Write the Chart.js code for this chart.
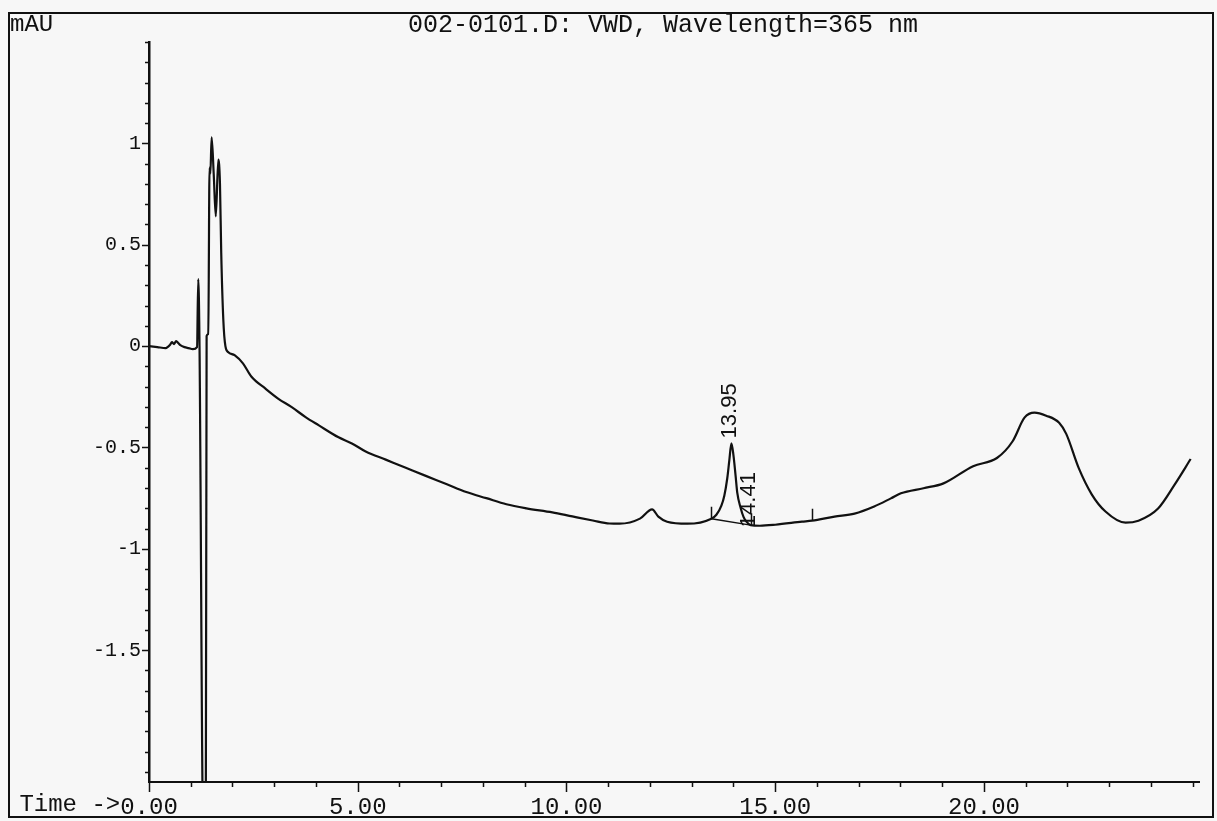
<!DOCTYPE html>
<html>
<head>
<meta charset="utf-8">
<title>002-0101.D VWD 365 nm</title>
<script src="https://cdn.jsdelivr.net/npm/chart.js@4.4.1/dist/chart.umd.min.js"></script>
<style>
  html, body { margin: 0; padding: 0; background: #f7f7f7; }
  #wrap { width: 1217px; height: 821px; }
</style>
</head>
<body>
<div id="wrap"><canvas id="chrom" width="1217" height="821"></canvas></div>
<script>
// VWD trace, 365 nm (time in min, signal in mAU)
var times = [
  0.00, 0.20, 0.40, 0.50, 0.55, 0.60, 0.65, 0.70, 0.75, 0.85,
  0.95, 1.05, 1.15, 1.18, 1.21, 1.30, 1.36, 1.38, 1.42, 1.45,
  1.47, 1.50, 1.55, 1.60, 1.66, 1.70, 1.73, 1.78, 1.83, 1.90,
  2.05, 2.25, 2.45, 2.79, 3.10, 3.41, 3.75, 4.06, 4.54, 4.86,
  5.19, 5.67, 6.15, 6.63, 7.12, 7.60, 8.08, 8.56, 9.04, 9.66,
  10.14, 10.63, 11.03, 11.27, 11.76, 12.05, 12.20, 12.41, 12.90, 13.47,
  13.59, 13.71, 13.78, 13.85, 13.90, 13.95, 14.00, 14.05, 14.09, 14.17,
  14.24, 14.31, 14.41, 14.63, 15.00, 15.64, 15.88, 16.42, 16.90, 17.37,
  17.77, 18.01, 18.55, 19.03, 19.74, 20.31, 20.69, 20.97, 21.21, 21.49,
  21.80, 21.97, 22.27, 22.58, 22.91, 23.39, 23.70, 24.17, 24.57, 24.95
];
var mau = [
  0.000, -0.005, -0.010, 0.005, 0.020, 0.010, 0.025, 0.015, 0.005, -0.005,
  -0.010, -0.015, -0.005, 0.330, 0.000, -2.400, -2.400, 0.050, 0.060, 0.880,
  0.850, 1.030, 0.850, 0.640, 0.920, 0.800, 0.460, 0.130, 0.000, -0.030,
  -0.045, -0.085, -0.150, -0.210, -0.260, -0.300, -0.350, -0.390, -0.450, -0.480,
  -0.520, -0.560, -0.600, -0.640, -0.680, -0.720, -0.750, -0.780, -0.800, -0.820,
  -0.840, -0.860, -0.875, -0.876, -0.851, -0.805, -0.841, -0.866, -0.876, -0.851,
  -0.832, -0.787, -0.738, -0.653, -0.564, -0.480, -0.540, -0.639, -0.723, -0.797,
  -0.842, -0.866, -0.883, -0.886, -0.881, -0.866, -0.861, -0.841, -0.826, -0.791,
  -0.751, -0.726, -0.701, -0.677, -0.592, -0.552, -0.468, -0.353, -0.328, -0.343,
  -0.378, -0.433, -0.602, -0.731, -0.816, -0.871, -0.861, -0.801, -0.682, -0.557
];

// integration baseline under the 13.95 peak
var baseTimes = [13.47, 14.41];
var baseMau = [-0.851, -0.883];

// integration event marks
var eventTimes = [13.47, 14.41, 15.88];
var eventMau = [-0.851, -0.883, -0.861];

// retention time labels
var peakTimes = [13.95, 14.41];
var peakMau = [-0.48, -0.883];

var xMajor = [0, 5, 10, 15, 20];
var yLabelled = [1, 0.5, 0, -0.5, -1, -1.5];

var mono = "'Liberation Mono', 'Courier New', monospace";
var ink = '#111';

function pts(xs, ys) {
  return xs.map(function (x, i) { return { x: x, y: ys[i] }; });
}

// frame, header text, tick marks and peak annotations
var decor = {
  id: 'decor',
  afterDraw: function (chart) {
    var ctx = chart.ctx;
    var xs = chart.scales.x, ys = chart.scales.y;
    var area = chart.chartArea;
    ctx.save();
    ctx.strokeStyle = ink;
    ctx.fillStyle = ink;

    ctx.lineWidth = 2;
    ctx.strokeRect(9, 13, 1204, 804);

    ctx.font = '25px ' + mono;
    ctx.textBaseline = 'alphabetic';
    ctx.textAlign = 'center';
    ctx.fillText('002-0101.D: VWD, Wavelength=365 nm', 663, 32);
    ctx.textAlign = 'left';
    ctx.font = '24px ' + mono;
    ctx.fillText('mAU', 10, 31);

    // "Time ->" sits right before the 0.00 label
    var zeroW = ctx.measureText('0.00').width;
    ctx.textAlign = 'right';
    ctx.textBaseline = 'top';
    ctx.fillText('Time ->', xs.getPixelForValue(0) - zeroW / 2, area.bottom + 11);

    // axis ticks
    ctx.lineWidth = 1.5;
    ctx.beginPath();
    xs.ticks.forEach(function (t) {
      var px = Math.round(xs.getPixelForValue(t.value)) + 0.5;
      var len = xMajor.indexOf(t.value) >= 0 ? 10 : 5;
      ctx.moveTo(px, area.bottom);
      ctx.lineTo(px, area.bottom + len);
    });
    ys.ticks.forEach(function (t) {
      var py = Math.round(ys.getPixelForValue(t.value)) + 0.5;
      var r = Math.round(t.value * 10) / 10;
      var len = yLabelled.indexOf(r) >= 0 ? 7 : 4;
      ctx.moveTo(area.left, py);
      ctx.lineTo(area.left - len, py);
    });
    ctx.stroke();

    // event marks on the baseline
    ctx.beginPath();
    eventTimes.forEach(function (t, i) {
      var px = Math.round(xs.getPixelForValue(t)) + 0.5;
      var py = ys.getPixelForValue(eventMau[i]);
      ctx.moveTo(px, py);
      ctx.lineTo(px, py - 12);
    });
    ctx.stroke();

    // rotated retention times
    ctx.font = "22px 'Liberation Sans', Arial, sans-serif";
    ctx.textAlign = 'left';
    ctx.textBaseline = 'middle';
    peakTimes.forEach(function (t, i) {
      var px = xs.getPixelForValue(t);
      var py = ys.getPixelForValue(peakMau[i]);
      ctx.save();
      if (i === 0) {
        ctx.translate(px - 1, py - 5);
      } else {
        ctx.translate(px - 2, py + 2);
      }
      ctx.rotate(-Math.PI / 2);
      ctx.fillText(t.toFixed(2), 0, 0);
      ctx.restore();
    });
    ctx.restore();
  }
};

new Chart(document.getElementById('chrom'), {
  type: 'line',
  data: {
    datasets: [
      {
        data: pts(times, mau),
        borderColor: ink,
        borderWidth: 2.2,
        pointRadius: 0,
        cubicInterpolationMode: 'monotone'
      },
      {
        data: pts(baseTimes, baseMau),
        borderColor: ink,
        borderWidth: 1.5,
        pointRadius: 0,
        tension: 0
      }
    ]
  },
  options: {
    responsive: false,
    animation: false,
    devicePixelRatio: 1,
    layout: { padding: { top: 42, right: 18, left: 0, bottom: 0 } },
    plugins: {
      legend: { display: false },
      tooltip: { enabled: false },
      title: { display: false }
    },
    scales: {
      x: {
        type: 'linear',
        min: 0,
        max: 25.15,
        afterFit: function (s) { s.height = 39; },
        afterBuildTicks: function (s) {
          var t = [];
          for (var v = 0; v <= 25; v++) t.push({ value: v });
          s.ticks = t;
        },
        grid: { display: true, drawOnChartArea: false, drawTicks: false },
        border: { display: true, color: ink, width: 2 },
        ticks: {
          autoSkip: false,
          maxRotation: 0,
          padding: 11,
          color: ink,
          font: { family: mono, size: 24 },
          callback: function (v) { return xMajor.indexOf(v) >= 0 ? v.toFixed(2) : ''; }
        }
      },
      y: {
        min: -2.15,
        max: 1.5,
        afterFit: function (s) { s.width = 149; },
        afterBuildTicks: function (s) {
          var t = [];
          for (var k = -21; k <= 15; k++) t.push({ value: k / 10 });
          s.ticks = t;
        },
        grid: { display: true, drawOnChartArea: false, drawTicks: false },
        border: { display: true, color: ink, width: 2.5 },
        ticks: {
          autoSkip: false,
          padding: 8,
          color: ink,
          font: { family: mono, size: 20 },
          callback: function (v) {
            var r = Math.round(v * 10) / 10;
            return yLabelled.indexOf(r) >= 0 ? String(r) : '';
          }
        }
      }
    }
  },
  plugins: [decor]
});
</script>
</body>
</html>
